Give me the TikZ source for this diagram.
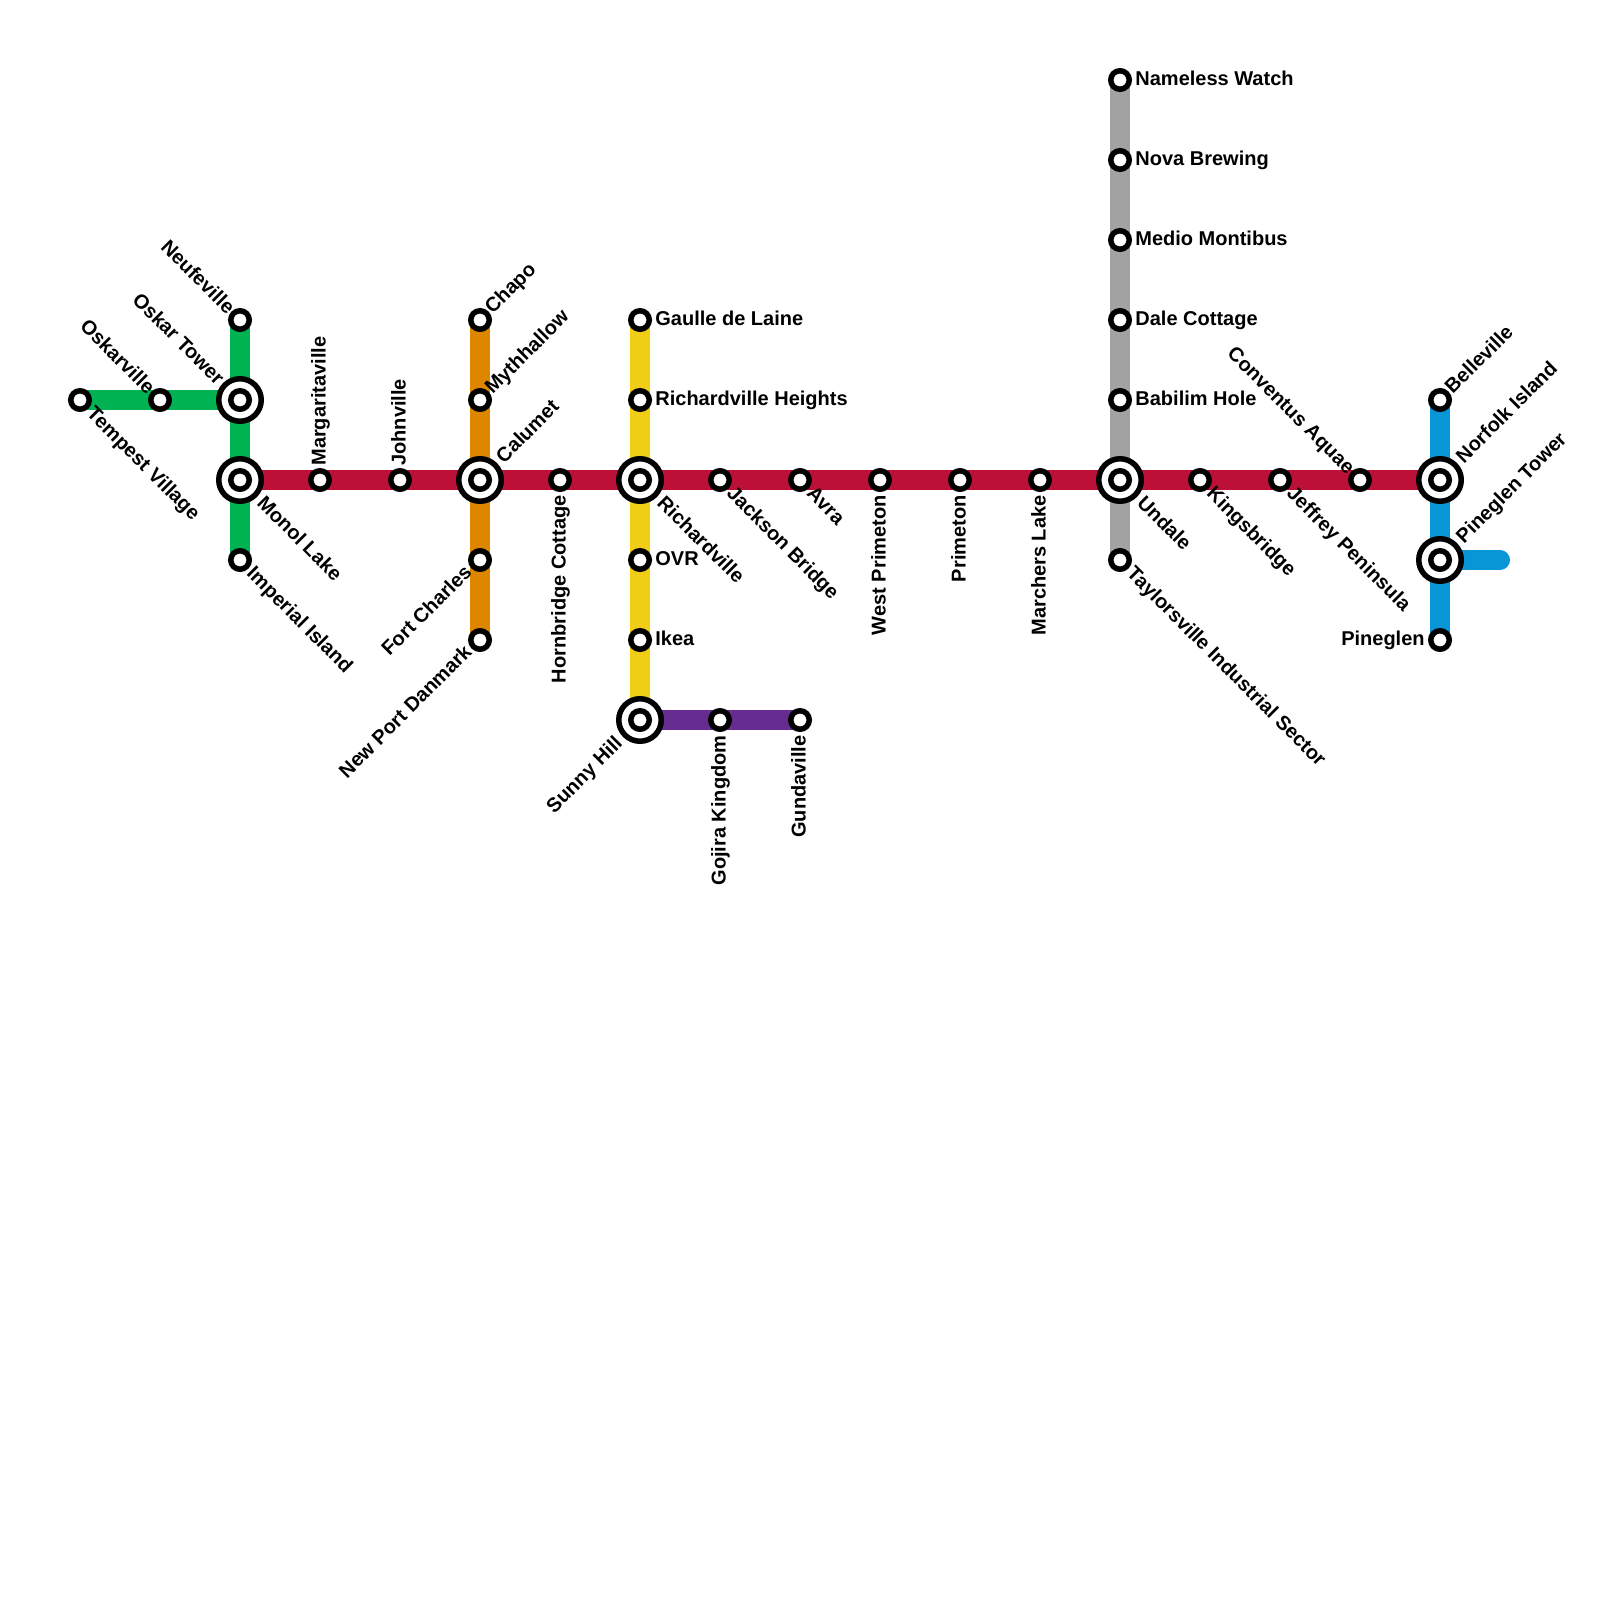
\documentclass[tikz,border=0pt]{standalone}
\usepackage{fontspec}
\setmainfont{Liberation Sans}
\usetikzlibrary{backgrounds}
\definecolor{greenline}{HTML}{00B251}
\definecolor{redline}{HTML}{BD1038}
\definecolor{orangeline}{HTML}{DF8600}
\definecolor{yellowline}{HTML}{F0CE15}
\definecolor{purpleline}{HTML}{662C90}
\definecolor{greyline}{HTML}{A2A2A2}
\definecolor{blueline}{HTML}{0896D7}

\begin{document}
\begin{tikzpicture}[
  x=0.5pt, y=-0.5pt,
  font=\fontsize{10}{11}\selectfont\bfseries,
  stn/.style={
    circle,
    draw=black,
    fill=white,
    line width=2.75pt,
    inner sep=0pt,
    outer sep=0pt,
    minimum size=9.25pt
  },
  hub/.style={
    circle,
    draw=black,
    fill=white,
    line width=2.75pt,
    inner sep=0pt,
    outer sep=0pt,
    minimum size=21.25pt
  },
  route/.style={
    line width=10pt,
    line cap=round
  },
  lbl/.style={inner sep=0pt, text height=7.2pt, text depth=0pt},
  lblE/.style={lbl, shift={(7.5pt,0.7pt)}, anchor=west},
  lblW/.style={lbl, shift={(-7.5pt,0.7pt)}, anchor=east},
  lblN/.style={lbl, shift={(-0.8pt,7pt)}, anchor=west, rotate=90},
  lblS/.style={lbl, shift={(-0.8pt,-7.5pt)}, anchor=east, rotate=90},
  lblNE/.style={lbl, shift={(3.8pt,5pt)}, anchor=west, rotate=45},
  lblNW/.style={lbl, shift={(-4pt,4.8pt)}, anchor=east, rotate=-45},
  lblSE/.style={lbl, shift={(5.3pt,-4.8pt)}, anchor=west, rotate=-45},
  lblSW/.style={lbl, shift={(-6pt,-4pt)}, anchor=east, rotate=45},
  hubNE/.style={lbl, shift={(9.4pt,10.4pt)}, anchor=west, rotate=45},
  hubNW/.style={lbl, shift={(-9.3pt,9.5pt)}, anchor=east, rotate=-45},
  hubSE/.style={lbl, shift={(10.5pt,-9.5pt)}, anchor=west, rotate=-45},
  hubSW/.style={lbl, shift={(-10.7pt,-9.8pt)}, anchor=east, rotate=45}
]

  \useasboundingbox (0,0) rectangle (1600,1600);

  % Green line stations
  \node[stn] (tempest) at (80,400) {};
  \node[stn] (oskarville) at (160,400) {};
  \node[stn] (neufeville) at (240,320) {};
  \node[hub] (oskartower) at (240,400) {};
  \node[stn] (oskartowerin) at (oskartower) {};
  \node[hub] (monol) at (240,480) {};
  \node[stn] (monolin) at (monol) {};
  \node[stn] (imperial) at (240,560) {};

  % Red line stations
  \node[stn] (margarita) at (320,480) {};
  \node[stn] (johnville) at (400,480) {};
  \node[hub] (calumet) at (480,480) {};
  \node[stn] (calumetin) at (calumet) {};
  \node[stn] (hornbridge) at (560,480) {};
  \node[hub] (richard) at (640,480) {};
  \node[stn] (richardin) at (richard) {};
  \node[stn] (jackson) at (720,480) {};
  \node[stn] (avra) at (800,480) {};
  \node[stn] (westprim) at (880,480) {};
  \node[stn] (primeton) at (960,480) {};
  \node[stn] (marchers) at (1040,480) {};
  \node[hub] (undale) at (1120,480) {};
  \node[stn] (undalein) at (undale) {};
  \node[stn] (kings) at (1200,480) {};
  \node[stn] (jeffrey) at (1280,480) {};
  \node[stn] (conventus) at (1360,480) {};
  \node[hub] (norfolk) at (1440,480) {};
  \node[stn] (norfolkin) at (norfolk) {};

  % Orange line stations
  \node[stn] (chapo) at (480,320) {};
  \node[stn] (myth) at (480,400) {};
  \node[stn] (fortch) at (480,560) {};
  \node[stn] (newport) at (480,640) {};

  % Yellow line stations
  \node[stn] (gaulle) at (640,320) {};
  \node[stn] (heights) at (640,400) {};
  \node[stn] (ovr) at (640,560) {};
  \node[stn] (ikea) at (640,640) {};
  \node[hub] (sunny) at (640,720) {};
  \node[stn] (sunnyin) at (sunny) {};

  % Purple line stations
  \node[stn] (gojira) at (720,720) {};
  \node[stn] (gunda) at (800,720) {};

  % Grey line stations
  \node[stn] (nameless) at (1120,80) {};
  \node[stn] (nova) at (1120,160) {};
  \node[stn] (medio) at (1120,240) {};
  \node[stn] (dale) at (1120,320) {};
  \node[stn] (babilim) at (1120,400) {};
  \node[stn] (taylors) at (1120,560) {};

  % Blue line stations
  \node[stn] (belle) at (1440,400) {};
  \node[hub] (pinetower) at (1440,560) {};
  \node[stn] (pinetowerin) at (pinetower) {};
  \node[stn] (pineglen) at (1440,640) {};
  \coordinate (blueend) at (1500,560);

  % Routes under the stations
  \begin{pgfonlayer}{background}
    \draw[route, greenline] (tempest.center) -- (oskartower.center);
    \draw[route, greenline] (neufeville.center) -- (imperial.center);
    \draw[route, orangeline] (chapo.center) -- (newport.center);
    \draw[route, yellowline] (gaulle.center) -- (sunny.center);
    \draw[route, purpleline] (sunny.center) -- (gunda.center);
    \draw[route, greyline] (nameless.center) -- (taylors.center);
    \draw[route, blueline] (belle.center) -- (pineglen.center);
    \draw[route, blueline] (pinetower.center) -- (blueend);
    \draw[route, redline] (monol.center) -- (norfolk.center);
  \end{pgfonlayer}

  % Labels
  \node[lblSE] (tempestL) at (tempest) {Tempest Village};
  \node[lblNW] (oskarvilleL) at (oskarville) {Oskarville};
  \node[lblNW] (neufevilleL) at (neufeville) {Neufeville};
  \node[hubNW] (oskartowerL) at (oskartower) {Oskar Tower};
  \node[hubSE] (monolL) at (monol) {Monol Lake};
  \node[lblSE] (imperialL) at (imperial) {Imperial Island};

  \node[lblN] (margaritaL) at (margarita) {Margaritaville};
  \node[lblN] (johnvilleL) at (johnville) {Johnville};
  \node[hubNE] (calumetL) at (calumet) {Calumet};
  \node[lblS] (hornbridgeL) at (hornbridge) {Hornbridge Cottage};
  \node[hubSE] (richardL) at (richard) {Richardville};
  \node[lblSE] (jacksonL) at (jackson) {Jackson Bridge};
  \node[lblSE] (avraL) at (avra) {Avra};
  \node[lblS] (westprimL) at (westprim) {West Primeton};
  \node[lblS] (primetonL) at (primeton) {Primeton};
  \node[lblS] (marchersL) at (marchers) {Marchers Lake};
  \node[hubSE] (undaleL) at (undale) {Undale};
  \node[lblSE] (kingsL) at (kings) {Kingsbridge};
  \node[lblSE] (jeffreyL) at (jeffrey) {Jeffrey Peninsula};
  \node[lblNW] (conventusL) at (conventus) {Conventus Aquae};
  \node[hubNE] (norfolkL) at (norfolk) {Norfolk Island};

  \node[lblNE] (chapoL) at (chapo) {Chapo};
  \node[lblNE] (mythL) at (myth) {Mythhallow};
  \node[lblSW] (fortchL) at (fortch) {Fort Charles};
  \node[lblSW] (newportL) at (newport) {New Port Danmark};

  \node[lblE] (gaulleL) at (gaulle) {Gaulle de Laine};
  \node[lblE] (heightsL) at (heights) {Richardville Heights};
  \node[lblE] (ovrL) at (ovr) {OVR};
  \node[lblE] (ikeaL) at (ikea) {Ikea};
  \node[hubSW] (sunnyL) at (sunny) {Sunny Hill};

  \node[lblS] (gojiraL) at (gojira) {Gojira Kingdom};
  \node[lblS] (gundaL) at (gunda) {Gundaville};

  \node[lblE] (namelessL) at (nameless) {Nameless Watch};
  \node[lblE] (novaL) at (nova) {Nova Brewing};
  \node[lblE] (medioL) at (medio) {Medio Montibus};
  \node[lblE] (daleL) at (dale) {Dale Cottage};
  \node[lblE] (babilimL) at (babilim) {Babilim Hole};
  \node[lblSE] (taylorsL) at (taylors) {Taylorsville Industrial Sector};

  \node[lblNE] (belleL) at (belle) {Belleville};
  \node[hubNE] (pinetowerL) at (pinetower) {Pineglen Tower};
  \node[lblW] (pineglenL) at (pineglen) {Pineglen};

\end{tikzpicture}
\end{document}
